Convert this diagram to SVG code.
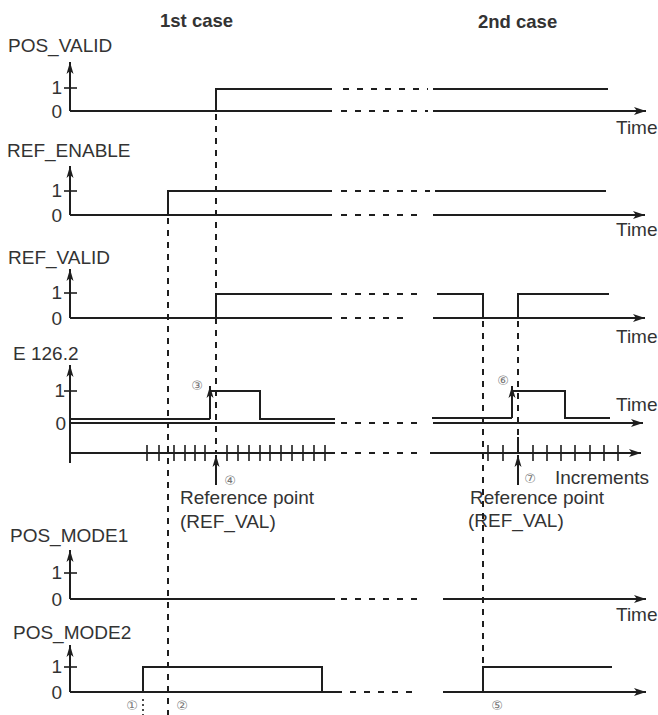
<svg xmlns="http://www.w3.org/2000/svg" width="658" height="715" viewBox="0 0 658 715">
<style>
text{font-family:"Liberation Sans",Arial,sans-serif;font-size:19px;fill:#333}
.t{font-weight:bold;font-size:18.5px}
.n{font-family:"DejaVu Sans",sans-serif;font-size:13px;fill:#777}
.s{stroke:#1e1e1e;stroke-width:2;fill:none}
.d{stroke:#1e1e1e;stroke-width:2;fill:none;stroke-dasharray:6 8}
.v{stroke:#1e1e1e;stroke-width:2;fill:none;stroke-dasharray:6 6}
.k{stroke:#1e1e1e;stroke-width:1.6;fill:none}
</style>
<defs>
<marker id="aR" markerUnits="userSpaceOnUse" viewBox="0 0 12 8" refX="12" refY="4" markerWidth="12" markerHeight="8" orient="auto"><path d="M0,0 L12,4 L0,8 L3,4 z" fill="#1e1e1e"/></marker>
<marker id="aU" markerUnits="userSpaceOnUse" viewBox="0 0 12 8" refX="12" refY="4" markerWidth="12" markerHeight="8" orient="auto"><path d="M0,0.5 L12,4 L0,7.5 L3,4 z" fill="#1e1e1e"/></marker>
</defs>

<text class="t" x="160" y="27">1st case</text>
<text class="t" x="478" y="28">2nd case</text>

<g id="pos_valid">
<text x="8" y="52">POS_VALID</text>
<text x="62" y="94" text-anchor="end">1</text>
<text x="62" y="118" text-anchor="end">0</text>
<line class="s" x1="70" y1="111" x2="70" y2="62" marker-end="url(#aU)"/>
<line class="k" x1="64" y1="88" x2="77" y2="88"/>
<line class="s" x1="70" y1="111" x2="332" y2="111"/>
<line class="d" x1="341" y1="111" x2="428" y2="111"/>
<line class="s" x1="433" y1="111" x2="646" y2="111" marker-end="url(#aR)"/>
<polyline class="s" points="216,111 216,89 332,89"/>
<line class="d" x1="343" y1="89" x2="428" y2="89"/>
<line class="s" x1="433" y1="89" x2="608" y2="89"/>
<text x="616" y="134">Time</text>
</g>

<g id="ref_enable">
<text x="7" y="157">REF_ENABLE</text>
<text x="62" y="197" text-anchor="end">1</text>
<text x="62" y="222" text-anchor="end">0</text>
<line class="s" x1="70" y1="215" x2="70" y2="166" marker-end="url(#aU)"/>
<line class="k" x1="64" y1="191" x2="77" y2="191"/>
<line class="s" x1="70" y1="215" x2="332" y2="215"/>
<line class="d" x1="341" y1="215" x2="424" y2="215"/>
<line class="s" x1="433" y1="215" x2="645" y2="215" marker-end="url(#aR)"/>
<polyline class="s" points="168,215 168,191 332,191"/>
<line class="d" x1="341" y1="191" x2="430" y2="191"/>
<line class="s" x1="435" y1="191" x2="606" y2="191"/>
<text x="616" y="236">Time</text>
</g>

<g id="ref_valid">
<text x="8" y="264">REF_VALID</text>
<text x="62" y="299" text-anchor="end">1</text>
<text x="62" y="325" text-anchor="end">0</text>
<line class="s" x1="70" y1="318" x2="70" y2="269" marker-end="url(#aU)"/>
<line class="k" x1="64" y1="293" x2="77" y2="293"/>
<line class="s" x1="70" y1="318" x2="332" y2="318"/>
<line class="d" x1="341" y1="318" x2="410" y2="318"/>
<line class="s" x1="433" y1="318" x2="645" y2="318" marker-end="url(#aR)"/>
<polyline class="s" points="216,318 216,294 332,294"/>
<line class="d" x1="341" y1="294" x2="425" y2="294"/>
<polyline class="s" points="437,294 483,294 483,318"/>
<polyline class="s" points="518,318 518,294 609,294"/>
<text x="616" y="343">Time</text>
</g>

<g id="e126_2">
<text x="13" y="360">E 126.2</text>
<text x="65" y="397" text-anchor="end">1</text>
<text x="66" y="430" text-anchor="end">0</text>
<line class="s" x1="70" y1="463" x2="70" y2="365" marker-end="url(#aU)"/>
<line class="k" x1="64" y1="391" x2="77" y2="391"/>
<line class="s" x1="70" y1="423" x2="335" y2="423"/>
<line class="d" x1="341" y1="423" x2="425" y2="423"/>
<line class="s" x1="433" y1="423" x2="643" y2="423" marker-end="url(#aR)"/>
<polyline class="s" points="70,419 210,419"/>
<line class="s" x1="210" y1="419" x2="210" y2="386" marker-end="url(#aU)"/>
<polyline class="s" points="210,391 260,391 260,419 335,419"/>
<polyline class="s" points="432,418 512,418"/>
<line class="s" x1="512" y1="418" x2="512" y2="386" marker-end="url(#aU)"/>
<polyline class="s" points="512,391 565,391 565,418 610,418"/>
<text class="n" x="197" y="390" text-anchor="middle">③</text>
<text class="n" x="503" y="385" text-anchor="middle">⑥</text>
<text x="616" y="411">Time</text>
</g>

<g id="increments">
<line class="s" x1="70" y1="453" x2="335" y2="453"/>
<line class="d" x1="341" y1="453" x2="423" y2="453"/>
<line class="s" x1="430" y1="453" x2="641" y2="453" marker-end="url(#aR)"/>
<path class="k" d="M147,445V461M159,445V461M174,445V461M185,445V461M195,445V461M205,445V461M227,445V461M238,445V461M249,445V461M260,445V461M270,445V461M281,445V461M292,445V461M303,445V461M314,445V461M325,445V461"/>
<path class="k" d="M488,445V461M503,445V461M533,445V461M547,445V461M561,445V461M575,445V461M590,445V461M604,445V461M618,445V461"/>
<line class="s" x1="216" y1="485" x2="216" y2="455" marker-end="url(#aU)"/>
<line class="s" x1="518" y1="485" x2="518" y2="455" marker-end="url(#aU)"/>
<line class="s" x1="518" y1="437" x2="518" y2="453"/>
<text class="n" x="230" y="485" text-anchor="middle">④</text>
<text class="n" x="530" y="483" text-anchor="middle">⑦</text>
<text x="555" y="484">Increments</text>
<text x="180" y="504">Reference point</text>
<text x="180" y="528">(REF_VAL)</text>
<text x="470" y="504">Reference point</text>
<text x="468" y="527">(REF_VAL)</text>
</g>

<g id="pos_mode1">
<text x="10" y="542">POS_MODE1</text>
<text x="62" y="579" text-anchor="end">1</text>
<text x="62" y="606" text-anchor="end">0</text>
<line class="s" x1="70" y1="599" x2="70" y2="550" marker-end="url(#aU)"/>
<line class="k" x1="64" y1="573" x2="77" y2="573"/>
<line class="s" x1="70" y1="599" x2="335" y2="599"/>
<line class="d" x1="341" y1="599" x2="422" y2="599"/>
<line class="s" x1="443" y1="599" x2="646" y2="599" marker-end="url(#aR)"/>
<text x="616" y="621">Time</text>
</g>

<g id="pos_mode2">
<text x="13" y="639">POS_MODE2</text>
<text x="62" y="673" text-anchor="end">1</text>
<text x="62" y="699" text-anchor="end">0</text>
<line class="s" x1="70" y1="692" x2="70" y2="645" marker-end="url(#aU)"/>
<line class="k" x1="64" y1="667" x2="77" y2="667"/>
<line class="s" x1="70" y1="692" x2="342" y2="692"/>
<line class="d" x1="350" y1="692" x2="420" y2="692"/>
<line class="s" x1="443" y1="692" x2="646" y2="692" marker-end="url(#aR)"/>
<polyline class="s" points="143,692 143,667 322,667 322,692"/>
<polyline class="s" points="483,692 483,667 612,667"/>
<line class="k" x1="143" y1="699" x2="143" y2="715" stroke-dasharray="2 3"/>
<text class="n" x="132" y="710" text-anchor="middle">①</text>
<text class="n" x="182" y="710" text-anchor="middle">②</text>
<text class="n" x="497" y="710" text-anchor="middle">⑤</text>
</g>

<g id="connectors">
<line class="v" x1="168" y1="218" x2="168" y2="715"/>
<line class="v" x1="216" y1="114" x2="216" y2="453"/>
<line class="v" x1="483" y1="321" x2="483" y2="692"/>
<line class="v" x1="518" y1="321" x2="518" y2="437"/>
</g>
</svg>
